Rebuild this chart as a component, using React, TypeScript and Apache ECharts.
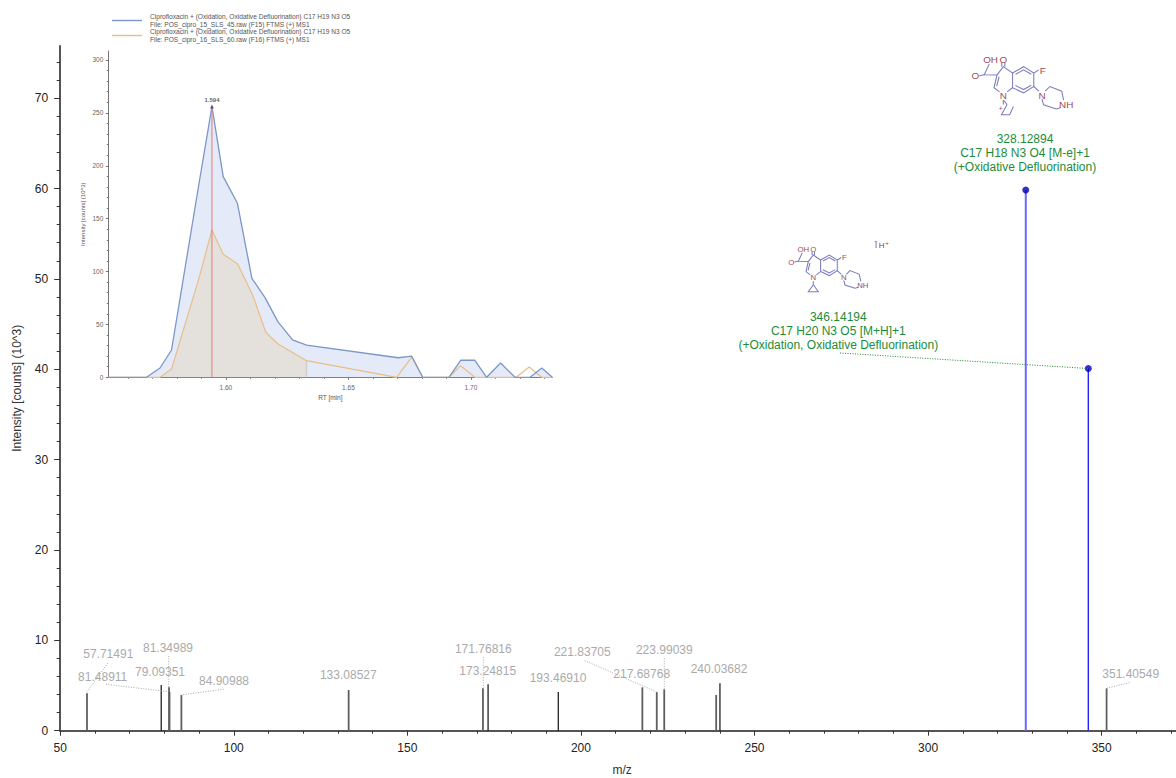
import React, { useEffect, useRef } from "react";
import * as echarts from "echarts";

const FONT = '"Liberation Sans", Arial, sans-serif';

const blackMz = [79.09351, 173.24815, 193.4691, 240.03682];
const blackIntensity = [5.06, 5.13, 4.28, 5.24];
const grayMz = [57.71491, 81.34989, 81.48911, 84.90988, 133.08527, 171.76816, 217.68768, 221.83705, 223.99039, 238.95, 351.40549];
const grayIntensity = [4.14, 4.8, 4.3, 3.95, 4.5, 4.69, 4.8, 4.28, 4.58, 3.95, 4.69];
const ionMz = [328.12894, 346.14194];
const ionIntensity = [59.84, 40.08];

const xTicks = [50, 100, 150, 200, 250, 300, 350];
const xMinorTicks = [60, 70, 80, 90, 110, 120, 130, 140, 160, 170, 180, 190, 210, 220, 230, 240, 260, 270, 280, 290, 310, 320, 330, 340, 360, 370];
const yTicks = [0, 10, 20, 30, 40, 50, 60, 70];
const yMinorTicks = [2, 4, 6, 8, 12, 14, 16, 18, 22, 24, 26, 28, 32, 34, 36, 38, 42, 44, 46, 48, 52, 54, 56, 58, 62, 64, 66, 68, 72, 74];

const blueRt = [1.552, 1.5676, 1.5731, 1.5778, 1.589, 1.5943, 1.5989, 1.6047, 1.6106, 1.6159, 1.6212, 1.6272, 1.6329, 1.6703, 1.6758, 1.6803, 1.691, 1.6958, 1.7016, 1.7064, 1.7121, 1.718, 1.7241, 1.7289, 1.7332];
const blueValues = [0, 0, 8.8, 25.8, 183, 256, 189.7, 164.5, 93.6, 75.6, 52.6, 35.3, 30.5, 18.5, 20.1, 0, 0, 16.1, 16.1, 0, 13.5, 0, 0, 8.8, 0];
const orangeRt = [1.552, 1.5731, 1.5778, 1.589, 1.5943, 1.5989, 1.6048, 1.6109, 1.6163, 1.6213, 1.6329, 1.6697, 1.6758, 1.6803, 1.691, 1.6958, 1.7016, 1.7184, 1.7238, 1.7289, 1.7332];
const orangeValues = [0, 0, 7.8, 93.6, 139.3, 116.3, 107.1, 77.8, 42.5, 31.5, 15.7, 0, 19, 0, 0, 11, 0, 0, 9.7, 0, 0];
const orangeFilledCount = 11;
const apexRt = 1.5943;
const apexValue = 256;
const limitRt = 1.6329;
const limitValue = 15.7;

const rtTicks = [1.6, 1.65, 1.7];
const rtMinorTicks = [1.56, 1.57, 1.58, 1.59, 1.61, 1.62, 1.63, 1.64, 1.66, 1.67, 1.68, 1.69, 1.71, 1.72, 1.73];
const insetYTicks = [0, 50, 100, 150, 200, 250, 300];
const insetYMinorTicks = [10, 20, 30, 40, 60, 70, 80, 90, 110, 120, 130, 140, 160, 170, 180, 190, 210, 220, 230, 240, 260, 270, 280, 290];

const blueName = "Ciprofloxacin + (Oxidation, Oxidative Defluorination) C17 H19 N3 O5\nFile: POS_cipro_15_SLS_45.raw (F15) FTMS (+) MS1";
const orangeName = "Ciprofloxacin + (Oxidation, Oxidative Defluorination) C17 H19 N3 O5\nFile: POS_cipro_16_SLS_60.raw (F16) FTMS (+) MS1";

const zip = (a: number[], b: number[]) => a.map((v, i) => [v, b[i]]);

function stems(name: string, xs: number[], ys: number[], color: string, width: number, axis: number, z = 3) {
  return {
    type: "custom",
    name,
    xAxisIndex: axis,
    yAxisIndex: axis,
    z,
    silent: true,
    data: zip(xs, ys),
    encode: { x: 0, y: 1 },
    renderItem: (_: any, api: any) => {
      const a = api.coord([api.value(0), 0]);
      const b = api.coord([api.value(0), api.value(1)]);
      return {
        type: "line",
        shape: { x1: a[0], y1: a[1], x2: b[0], y2: b[1] },
        style: { stroke: color, lineWidth: width, fill: "none" },
      };
    },
  };
}

function label(text: string, x: number, y: number, fill: string, font = `12px ${FONT}`) {
  return { type: "text", x, y, z: 20, silent: true, style: { text, fill, font, align: "center", verticalAlign: "middle" } };
}

function leader(x1: number, y1: number, x2: number, y2: number, stroke = "#aaaaaa") {
  return { type: "line", z: 19, silent: true, shape: { x1, y1, x2, y2 }, style: { stroke, lineWidth: 1, lineDash: [1, 1.5] } };
}

function molecule(nx: number, ny: number, s: number, variant: "closed" | "open") {
  const bond = "#7c7cc0";
  const atom = "#a04b58";
  const P = (x: number, y: number) => [nx + s * x, ny + s * y];
  const poly = (pts: number[][]) => ({
    type: "polyline",
    z: 18,
    silent: true,
    shape: { points: pts.map((p) => P(p[0], p[1])) },
    style: { stroke: bond, fill: "none", lineWidth: 1.05 },
  });
  const t = (text: string, x: number, y: number, size: number, color = atom) => {
    const p = P(x, y);
    return label(text, p[0], p[1], color, `${size}px ${FONT}`);
  };
  const size = 7.8 * s;
  const els: any[] = [
    // quinolone rings
    poly([[-3, -2.5], [-7.3, -5.7], [-5, -15.7], [0, -22.3], [7.3, -17.3], [7.3, -5.7], [3, -2.5]]),
    poly([[7.3, -17.3], [16, -22.3], [24, -17.3], [24, -6.7], [16, -1.7], [7.3, -5.7]]),
    poly([[9.5, -7.5], [16, -4.3], [22, -7.7]]),
    poly([[22, -16.3], [16, -19.8], [9.7, -16.3]]),
    poly([[-3.3, -14.5], [-5.2, -7]]),
    // carbonyl and acid
    poly([[-1.2, -22.3], [-1.2, -25.5]]),
    poly([[1.2, -22.3], [1.2, -25.5]]),
    poly([[-5, -15.7], [-15, -16], [-11, -24.5]]),
    poly([[-15, -16], [-19, -15.2]]),
    // fluorine and piperazine link
    poly([[24, -17.3], [28, -19.8]]),
    poly([[24, -6.7], [28, -3]]),
    poly([[33, -3], [36.7, -6.7], [46, -3], [47.5, 4]]),
    poly([[45, 10], [41.7, 11], [31.7, 7.7], [30.5, 3]]),
    poly([[0, 4], [0, 7.5]]),
  ];
  if (variant === "closed") {
    els.push(poly([[0, 7.5], [-5, 14.5], [5, 14.5], [0, 7.5]]));
  } else {
    els.push(poly([[3, 7.5], [-1.5, 15.5], [5, 15.5], [8, 9]]));
    els.push(poly([[0, 4], [3, 7.5]]));
    els.push(t("+", -2, 11, size * 0.7));
  }
  els.push(t("OH", -10, -28, size), t("O", 0, -28, size), t("O", -22, -15, size), t("F", 31, -19.5, size));
  els.push(t("N", 0, 0, size), t("N", 30.5, 0, size), t("NH", 49.5, 7.7, size));
  return els;
}

const graphicElements = [
  label("57.71491", 108.3, 654, "#aaaaaa"),
  label("81.34989", 168, 647.7, "#aaaaaa"),
  label("79.09351", 160, 671.7, "#aaaaaa"),
  label("81.48911", 102.7, 676.7, "#aaaaaa"),
  label("84.90988", 224, 681, "#aaaaaa"),
  label("133.08527", 348.3, 675, "#aaaaaa"),
  label("171.76816", 483.3, 649, "#aaaaaa"),
  label("173.24815", 487.7, 670.7, "#aaaaaa"),
  label("193.46910", 558, 678.3, "#aaaaaa"),
  label("221.83705", 582.3, 652, "#aaaaaa"),
  label("217.68768", 641.7, 673.7, "#aaaaaa"),
  label("223.99039", 664.3, 650, "#aaaaaa"),
  label("240.03682", 719, 669.3, "#aaaaaa"),
  label("351.40549", 1130.7, 673.7, "#aaaaaa"),
  leader(86.7, 692.3, 108.3, 662.3),
  leader(106, 684.3, 168.3, 691.7),
  leader(168.7, 687, 168.7, 655),
  leader(180.7, 695, 225, 689),
  leader(483.3, 688.3, 483.3, 656.7),
  leader(656.7, 692, 583.3, 660),
  leader(664.3, 689.3, 664.3, 658.3),
  leader(1106.7, 688.3, 1130.7, 682.3),
  leader(840, 353, 1088, 368.5, "#1f8a2e"),
  label("328.12894", 1025, 139, "#1c8c3a"),
  label("C17 H18 N3 O4 [M-e]+1", 1025, 153, "#1c8c3a"),
  label("(+Oxidative Defluorination)", 1025, 167, "#1c8c3a"),
  label("346.14194", 838.3, 317, "#1c8c3a"),
  label("C17 H20 N3 O5 [M+H]+1", 838.3, 331, "#1c8c3a"),
  label("(+Oxidation, Oxidative Defluorination)", 838.3, 345, "#1c8c3a"),
  ...molecule(1003.3, 95, 1.27, "open"),
  ...molecule(813.3, 277.3, 1, "closed"),
  label("⌉", 875.7, 244, "#8a3a48", `8px ${FONT}`),
  label("H", 881.7, 245.5, "#8a3a48", `8px ${FONT}`),
  label("+", 887, 243, "#8a3a48", `6px ${FONT}`),
];

const axisBase = { type: "value", splitLine: { show: false }, scale: false };
const fmt2 = (v: number) => v.toFixed(2);

const option: any = {
  animation: false,
  backgroundColor: "#ffffff",
  textStyle: { fontFamily: FONT },
  grid: [
    { left: 60.2, top: 46, right: 0, height: 684.7, outerBoundsMode: "none" },
    { left: 108.3, top: 51, width: 444, height: 326.3, outerBoundsMode: "none" },
  ],
  legend: {
    data: [blueName, orangeName],
    orient: "vertical",
    left: 112,
    top: 13,
    icon: "rect",
    itemWidth: 30,
    itemHeight: 1.4,
    itemGap: 0,
    padding: 0,
    selectedMode: false,
    textStyle: { fontFamily: FONT, fontSize: 6.6, lineHeight: 7.5, color: "#555555", padding: [0, 0, 0, 3] },
  },
  xAxis: [
    {
      ...axisBase, gridIndex: 0, position: "bottom", min: 50, max: 371.4, name: "m/z", nameLocation: "middle", nameGap: 33.5,
      nameTextStyle: { fontFamily: FONT, fontSize: 12, color: "#333333", padding: [0, 0, 0, 8] },
      axisLine: { show: true, onZero: false, lineStyle: { color: "#555555", width: 2 } },
      axisTick: { show: true, customValues: xTicks, length: 5, lineStyle: { color: "#333333" } },
      axisLabel: { show: true, customValues: xTicks, margin: 11.3, fontFamily: FONT, fontSize: 12, color: "#222222" },
    },
    {
      ...axisBase, gridIndex: 0, position: "bottom", min: 50, max: 371.4,
      axisLine: { show: false, onZero: false },
      axisTick: { show: true, customValues: xMinorTicks, length: 3, lineStyle: { color: "#333333" } },
      axisLabel: { show: false },
    },
    {
      ...axisBase, gridIndex: 1, position: "bottom", min: 1.552, max: 1.7332, name: "RT [min]", nameLocation: "middle", nameGap: 17,
      nameTextStyle: { fontFamily: FONT, fontSize: 6.5, color: "#555555" },
      axisLine: { show: true, onZero: false, lineStyle: { color: "#777777", width: 1 } },
      axisTick: { show: true, customValues: rtTicks, length: 2.5, lineStyle: { color: "#777777" } },
      axisLabel: { show: true, customValues: rtTicks, formatter: fmt2, margin: 6.5, fontFamily: FONT, fontSize: 6.5, color: "#666666" },
    },
    {
      ...axisBase, gridIndex: 1, position: "bottom", min: 1.552, max: 1.7332,
      axisLine: { show: false, onZero: false },
      axisTick: { show: true, customValues: rtMinorTicks, length: 1.5, lineStyle: { color: "#777777" } },
      axisLabel: { show: false },
    },
  ],
  yAxis: [
    {
      ...axisBase, gridIndex: 0, position: "left", min: 0, max: 75.77, name: "Intensity [counts] (10^3)", nameLocation: "middle", nameGap: 37,
      nameTextStyle: { fontFamily: FONT, fontSize: 12, color: "#333333" },
      axisLine: { show: true, onZero: false, lineStyle: { color: "#555555", width: 2 } },
      axisTick: { show: true, customValues: yTicks, length: 6, lineStyle: { color: "#333333" } },
      axisLabel: { show: true, customValues: yTicks, margin: 12, fontFamily: FONT, fontSize: 12, color: "#222222" },
    },
    {
      ...axisBase, gridIndex: 0, position: "left", min: 0, max: 75.77,
      axisLine: { show: false, onZero: false },
      axisTick: { show: true, customValues: yMinorTicks, length: 3.5, lineStyle: { color: "#333333" } },
      axisLabel: { show: false },
    },
    {
      ...axisBase, gridIndex: 1, position: "left", min: 0, max: 308.5, name: "Intensity [counts] (10^3)", nameLocation: "middle", nameGap: 22,
      nameTextStyle: { fontFamily: FONT, fontSize: 6, color: "#555555" },
      axisLine: { show: true, onZero: false, lineStyle: { color: "#777777", width: 1 } },
      axisTick: { show: true, customValues: insetYTicks, length: 2.5, lineStyle: { color: "#777777" } },
      axisLabel: { show: true, customValues: insetYTicks, margin: 5, fontFamily: FONT, fontSize: 6.5, color: "#666666" },
    },
    {
      ...axisBase, gridIndex: 1, position: "left", min: 0, max: 308.5,
      axisLine: { show: false, onZero: false },
      axisTick: { show: true, customValues: insetYMinorTicks, length: 1.5, lineStyle: { color: "#777777" } },
      axisLabel: { show: false },
    },
  ],
  series: [
    stems("gray peaks", grayMz, grayIntensity, "#5f5f5f", 1.8, 0),
    stems("black peaks", blackMz, blackIntensity, "#111111", 1.2, 0),
    stems("ion 328", [ionMz[0]], [ionIntensity[0]], "#6a6aff", 2, 0),
    stems("ion 346", [ionMz[1]], [ionIntensity[1]], "#2222ff", 1.4, 0),
    {
      type: "scatter", name: "ions", xAxisIndex: 0, yAxisIndex: 0, z: 4, symbolSize: 7, silent: true,
      itemStyle: { color: "#0000b8" }, data: zip(ionMz, ionIntensity),
    },
    {
      type: "line", name: "blue fill", xAxisIndex: 2, yAxisIndex: 2, z: 2, symbol: "none", silent: true,
      lineStyle: { width: 0, opacity: 0 }, areaStyle: { color: "#e4eaf7", opacity: 1 }, data: zip(blueRt, blueValues),
    },
    {
      type: "line", name: "orange fill", xAxisIndex: 2, yAxisIndex: 2, z: 2.5, symbol: "none", silent: true,
      lineStyle: { width: 0, opacity: 0 }, areaStyle: { color: "#e4e0dc", opacity: 1 },
      data: zip(orangeRt.slice(0, orangeFilledCount), orangeValues.slice(0, orangeFilledCount)),
    },
    stems("limit", [limitRt], [limitValue], "#cfcfcf", 1.5, 2, 3),
    {
      type: "line", name: orangeName, xAxisIndex: 2, yAxisIndex: 2, z: 4, symbol: "none", silent: true,
      itemStyle: { color: "#e9be86" }, lineStyle: { width: 1.2, color: "#e9be86" }, data: zip(orangeRt, orangeValues),
    },
    {
      type: "line", name: blueName, xAxisIndex: 2, yAxisIndex: 2, z: 5, symbol: "none", silent: true,
      itemStyle: { color: "#7b97c8" }, lineStyle: { width: 1.3, color: "#7b97c8" }, data: zip(blueRt, blueValues),
    },
    stems("apex line", [apexRt], [apexValue], "#e77a7a", 1, 2, 6),
    {
      type: "scatter", name: "apex", xAxisIndex: 2, yAxisIndex: 2, z: 7, symbol: "triangle", symbolSize: 4, silent: true,
      itemStyle: { color: "#4a3a6a" }, data: [[apexRt, apexValue]],
      label: { show: true, position: "top", distance: 2, formatter: "1.594", fontFamily: FONT, fontSize: 6, fontWeight: "bold", color: "#333333" },
    },
  ],
  graphic: { elements: graphicElements },
};

export default function App() {
  const ref = useRef<HTMLDivElement>(null);
  useEffect(() => {
    const chart = echarts.init(ref.current!, undefined, { renderer: "svg" });
    chart.setOption(option);
    return () => chart.dispose();
  }, []);
  return <div ref={ref} style={{ position: "fixed", left: 0, top: 0, width: 1176, height: 778, background: "#fff" }} />;
}
